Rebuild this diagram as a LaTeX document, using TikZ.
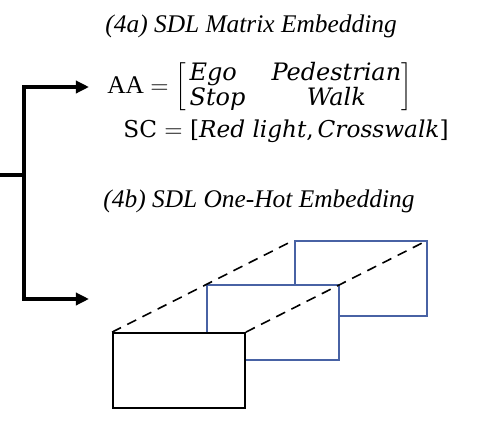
\documentclass[tikz,border=0pt]{standalone}
\usepackage{fontspec}
\setmainfont{Liberation Serif}
\newfontfamily\cambria{DejaVu Serif}
\usetikzlibrary{arrows.meta,positioning}
\definecolor{slideblue}{RGB}{72,98,164}
\tikzset{branch arrows/.style={line width=1.65pt,{Triangle[length=6.5pt,width=6pt]}-{Triangle[length=6.5pt,width=6pt]}},
         branch stub/.style={line width=1.65pt},
         caption text/.style={font=\fontsize{12.7}{15}\selectfont\itshape,inner sep=0pt},
         eq text/.style={inner sep=0pt},
         black frame/.style={draw=black,fill=white,line width=0.9pt,minimum width=66pt,minimum height=37.5pt,inner sep=0pt},
         blue frame/.style={black frame,draw=slideblue},
         edge line/.style={line width=0.8pt,dash pattern=on 5pt off 3.5pt}
}

\begin{document}
\begin{tikzpicture}[x=0.5pt,y=-0.5pt]
\useasboundingbox (0,0) rectangle (484,440);
% the branch on the left
\coordinate (s) at (0,175);
\coordinate (j) at (24,175);
\coordinate (t) at (24,87);
\coordinate (b) at (24,299);
\coordinate (ta) at (89,87);
\coordinate (ba) at (89,299);
\draw[branch stub] (s) -- (j);
\draw[branch arrows] (ta) -- (t) -- (b) -- (ba);

% (4a)
\node[caption text,anchor=base west] (4a) at (105,32) {(4a) SDL Matrix Embedding};
\node[eq text,anchor=base west] (aa) at (107,93) {\fontsize{12.7}{15}\selectfont AA $=$
    $\left[\mbox{\fontsize{12}{11.5}\selectfont\cambria\itshape
    \begin{tabular}{@{\,}l@{\hspace{13pt}}c@{}}Ego & Pedestrian\\ Stop & Walk\end{tabular}}\right]$};
\node[eq text,anchor=base west] (sc) at (123,137) {\fontsize{11.6}{13}\selectfont\cambria SC $=$ [\textit{Red light},\,\textit{Crosswalk}]};

% (4b)
\node[caption text,anchor=base west] (4b) at (103,207) {(4b) SDL One-Hot Embedding};
\node[blue frame] (3) at (361,278.5) {};
\node[blue frame] (2) at (273,322.5) {};
\node[black frame] (1) at (179,370.5) {};
\draw[edge line] (1.north west) -- (3.north west);
\draw[edge line] (1.north east) -- (3.north east);
\end{tikzpicture}
\end{document}
